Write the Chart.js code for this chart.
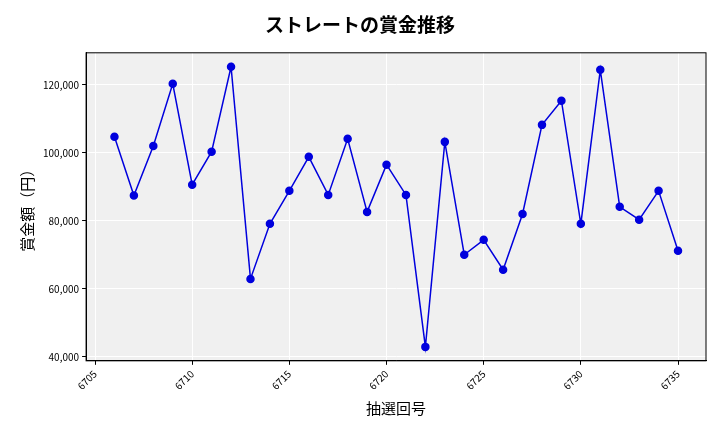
<!DOCTYPE html>
<html><head><meta charset="utf-8">
<script src="https://cdn.jsdelivr.net/npm/chart.js"></script>
<style>html,body{margin:0;padding:0;background:#fff}#w{width:720px;height:432px}</style>
</head><body><div id="w"><canvas id="c"></canvas></div>
<script>
const draws=[6706,6707,6708,6709,6710,6711,6712,6713,6714,6715,6716,6717,6718,6719,6720,6721,6722,6723,6724,6725,6726,6727,6728,6729,6730,6731,6732,6733,6734,6735];
const prizes=[104700,87400,102000,120300,90600,100300,125300,62900,79100,88800,98800,87600,104100,82600,96500,87600,42900,103200,70000,74400,65600,82000,108200,115300,79100,124400,84100,80300,88800,71200];
const xTicks=[6705,6710,6715,6720,6725,6730,6735];
const yTicks=[40000,60000,80000,100000,120000];
const F='"Noto Sans CJK JP","Noto Sans",sans-serif';
const bg={id:'bg',beforeDraw(ch){const a=ch.chartArea,c=ch.ctx;c.save();c.fillStyle='#f0f0f0';c.fillRect(a.left,a.top,a.right-a.left,a.bottom-a.top);c.restore();},
afterDraw(ch){const a=ch.chartArea,c=ch.ctx;c.save();c.strokeStyle='#000';c.lineWidth=1;c.strokeRect(a.left,a.top,a.right-a.left,a.bottom-a.top);c.restore();}};
new Chart(document.getElementById('c'),{type:'line',
data:{datasets:[{data:draws.map((d,i)=>({x:d,y:prizes[i]})),borderColor:'#0000dd',backgroundColor:'#0000dd',borderWidth:1.5,pointRadius:3.5,tension:0}]},
options:{responsive:true,maintainAspectRatio:false,animation:false,
layout:{padding:{left:14,right:14,top:7,bottom:11}},
plugins:{legend:{display:false},title:{display:true,text:'ストレートの賞金推移',font:{family:F,size:19,weight:'bold'},color:'#000',padding:{top:6,bottom:17}}},
scales:{
x:{type:'linear',min:6704.54,max:6736.44,afterBuildTicks:s=>{s.ticks=xTicks.map(v=>({value:v}))},
ticks:{maxRotation:45,minRotation:45,font:{family:F,size:10},color:'#000',callback:v=>String(v)},
grid:{color:'#fff',lineWidth:1,drawTicks:true,tickColor:'#000',tickLength:4},border:{color:'#000'},
title:{display:true,text:'抽選回号',font:{family:F,size:15},color:'#000'}},
y:{min:38800,max:129400,afterBuildTicks:s=>{s.ticks=yTicks.map(v=>({value:v}))},
ticks:{font:{family:F,size:10},color:'#000',callback:v=>v.toLocaleString('en-US')},
grid:{color:'#fff',lineWidth:1,tickColor:'#000',tickLength:4},border:{color:'#000'},
title:{display:true,text:'賞金額（円）',font:{family:F,size:15},color:'#000'}}}},
plugins:[bg]});
</script></body></html>
